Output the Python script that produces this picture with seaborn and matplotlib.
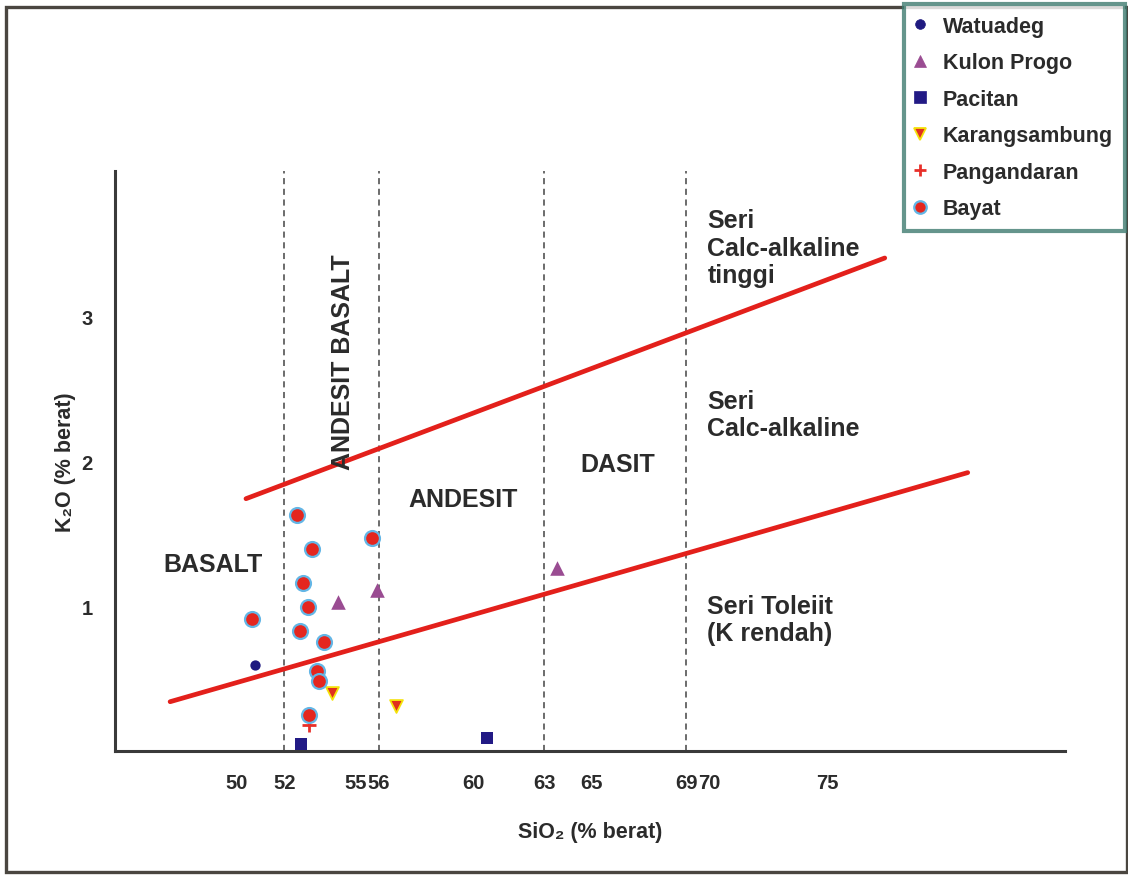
import pandas as pd
import matplotlib
matplotlib.use('Agg')
import matplotlib.pyplot as plt
from matplotlib.lines import Line2D
from matplotlib.patches import Rectangle
import seaborn as sns

# Data
groups = ['Watuadeg', 'Kulon Progo', 'Pacitan', 'Karangsambung', 'Pangandaran', 'Bayat']
sio2 = {
    'Watuadeg': [50.76],
    'Kulon Progo': [54.27, 55.91, 63.54],
    'Pacitan': [52.71, 60.58],
    'Karangsambung': [54.02, 56.73],
    'Pangandaran': [53.03],
    'Bayat': [52.55, 55.70, 53.17, 52.80, 53.02, 50.63, 52.68, 53.69, 53.40, 53.48, 53.05],
}
k2o = {
    'Watuadeg': [0.59],
    'Kulon Progo': [1.03, 1.11, 1.26],
    'Pacitan': [0.05, 0.09],
    'Karangsambung': [0.40, 0.31],
    'Pangandaran': [0.18],
    'Bayat': [1.63, 1.47, 1.39, 1.16, 0.99, 0.91, 0.83, 0.75, 0.55, 0.48, 0.25],
}

# boundary lines between series
low_line_x = [47.17, 80.92]
low_line_y = [0.34, 1.92]
high_line_x = [50.38, 77.41]
high_line_y = [1.74, 3.40]

# rock type boundaries (SiO2)
rock_bounds = [52, 56, 63, 69]
x_ticks = [50, 52, 55, 56, 60, 63, 65, 69, 70, 75]
y_ticks = [0.5, 1, 1.5, 2, 2.5, 3]
y_ticklabels = ['', '1', '', '2', '', '3']

rows = []
for g in groups:
    for a, b in zip(sio2[g], k2o[g]):
        rows.append({'group': g, 'SiO2': a, 'K2O': b})
df = pd.DataFrame(rows)

styles = {
    'Watuadeg': dict(marker='o', color='#1f1a80', edgecolor='#1f1a80', s=55, linewidth=0),
    'Kulon Progo': dict(marker='^', color='#9a4c92', edgecolor='#9a4c92', s=110, linewidth=0),
    'Pacitan': dict(marker='s', color='#221a85', edgecolor='#221a85', s=80, linewidth=0),
    'Karangsambung': dict(marker='v', color='#e0301e', edgecolor='#f4e20a', s=85, linewidth=1.3),
    'Pangandaran': dict(marker='+', color='#e8302a', s=110, linewidth=2),
    'Bayat': dict(marker='o', color='#e4261f', edgecolor='#63b6e6', s=115, linewidth=1.6),
}

sns.set_style('white')
plt.rcParams['font.family'] = ['Liberation Sans', 'DejaVu Sans']
plt.rcParams['font.weight'] = 'bold'
txt = '#2b2b2b'

fig = plt.figure(figsize=(11.28, 8.78), dpi=100)
ax = fig.add_axes([0.102, 0.1435, 0.842, 0.6606])

for b in rock_bounds:
    ax.axvline(b, color='#444444', lw=1.1, ls=(0, (4, 3)), zorder=1)

sns.lineplot(x=low_line_x, y=low_line_y, color='#e3201b', lw=3.4, sort=False, ax=ax, zorder=2)
sns.lineplot(x=high_line_x, y=high_line_y, color='#e3201b', lw=3.4, sort=False, ax=ax, zorder=2)

for g in groups:
    sub = df[df['group'] == g]
    sns.scatterplot(data=sub, x='SiO2', y='K2O', ax=ax, legend=False, zorder=3, **styles[g])

ax.set_xlim(44.84, 85.03)
ax.set_ylim(0, 4.0)
sns.despine(ax=ax)
for side in ['left', 'bottom']:
    ax.spines[side].set_color('#3a3a3a')
    ax.spines[side].set_linewidth(2.2)

ax.set_xticks(x_ticks)
ax.set_xticklabels([str(t) for t in x_ticks], fontsize=14.5, fontweight='bold', color=txt)
ax.set_yticks(y_ticks)
ax.set_yticklabels(y_ticklabels, fontsize=14.5, fontweight='bold', color=txt)
ax.tick_params(axis='both', direction='in', length=10, width=1.6, color='#3a3a3a')
ax.tick_params(axis='x', pad=16)
ax.tick_params(axis='y', pad=16)
for t, v in zip(ax.xaxis.get_major_ticks(), x_ticks):
    if v in rock_bounds:
        t.tick1line.set_visible(False)

ax.set_xlabel('SiO₂ (% berat)', fontsize=15.5, fontweight='bold', color=txt, labelpad=21)
ax.set_ylabel('K₂O (% berat)', fontsize=15.5, fontweight='bold', color=txt, labelpad=4)

# region labels
lab = dict(fontsize=18, fontweight='bold', color=txt)
ax.text(48.98, 1.29, 'BASALT', ha='center', va='center', **lab)
ax.text(54.48, 2.69, 'ANDESIT BASALT', ha='center', va='center', rotation=90, **lab)
ax.text(59.56, 1.74, 'ANDESIT', ha='center', va='center', **lab)
ax.text(66.12, 1.98, 'DASIT', ha='center', va='center', **lab)
ax.text(69.9, 3.47, 'Seri\nCalc-alkaline\ntinggi', ha='left', va='center', linespacing=1.18, **lab)
ax.text(69.9, 2.32, 'Seri\nCalc-alkaline', ha='left', va='center', linespacing=1.18, **lab)
ax.text(69.9, 0.905, 'Seri Toleiit\n(K rendah)', ha='left', va='center', linespacing=1.18, **lab)

# legend
handles = []
for g in groups:
    st = styles[g]
    handles.append(Line2D([], [], ls='none', marker=st['marker'], markersize=9 if g != 'Watuadeg' else 7,
                          markerfacecolor=st['color'], markeredgecolor=st.get('edgecolor', st['color']),
                          markeredgewidth=st['linewidth'] if st['linewidth'] else 0.5, color=st['color']))
leg = fig.legend(handles, groups, loc='upper right', bbox_to_anchor=(1125 / 1128, 1 - 5 / 878),
                 frameon=True, fancybox=False, prop={'family': 'Liberation Sans', 'weight': 'bold', 'size': 15.5},
                 labelspacing=0.72, handlelength=0.4, handletextpad=0.85, borderpad=0.55, borderaxespad=0,
                 labelcolor=txt)
leg.get_frame().set_edgecolor('#3e7b70')
leg.get_frame().set_linewidth(3)
leg.set_zorder(10)

# outer frame
fig.patches.append(Rectangle((6 / 1128, 5 / 878), 1121 / 1128, 865 / 878, transform=fig.transFigure,
                             fill=False, edgecolor='#4a4640', lw=2.4, zorder=0))

fig.savefig('out.png', dpi=100, facecolor='white')
